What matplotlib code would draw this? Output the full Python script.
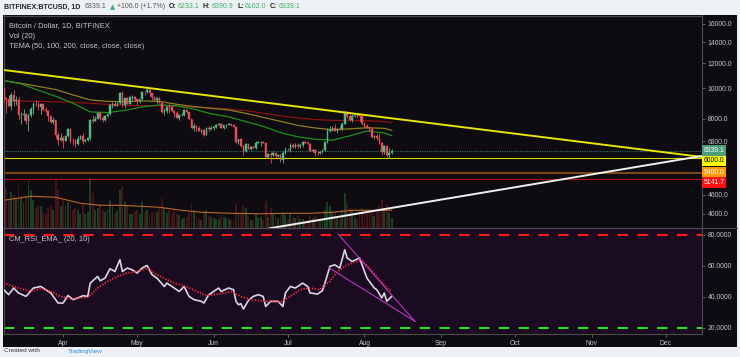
import numpy as np
import pandas as pd
import matplotlib
matplotlib.use("Agg")
import matplotlib.pyplot as plt
import matplotlib.dates as mdates
import matplotlib.ticker as mticker
from matplotlib.patches import Rectangle
from matplotlib.lines import Line2D

plt.rcParams['font.family'] = ['Liberation Sans', 'DejaVu Sans']

# ---------------------------------------------------------------- data
first_day = "2018-03-08"

opens = [9950, 9280, 9220, 8780, 9530, 9130, 9150, 8200, 8250, 8270, 7870, 8200, 8600, 8900, 8890, 8710, 8900, 8540, 8450, 8140, 7800, 7940, 7100, 6850,
         6950, 6820, 7060, 7430, 6800, 6780, 6630, 6910, 7030, 6780, 6840, 6940, 7910, 7890, 8010, 8360, 8060, 7900, 8170, 8280, 8860, 8920, 8800, 8950, 9650, 8870, 9280, 8940, 9350, 9400,
         9240, 9080, 9220, 9740, 9700, 9850, 9650, 9370, 9180, 9310, 9000, 8420, 8480, 8700, 8690, 8470, 8340, 8060, 8240, 8240, 8520, 8390, 7990, 7500, 7580, 7460, 7340, 7350, 7120, 7470, 7400,
         7500, 7530, 7640, 7720, 7500, 7630, 7660, 7690, 7620, 7530, 6770, 6880, 6550, 6310, 6640, 6400, 6500, 6460, 6700, 6740, 6760, 6720, 6060, 6170, 6150, 6250, 6090, 6160, 5900, 6220,
         6390, 6360, 6620, 6520, 6600, 6550, 6610, 6760, 6710, 6670, 6300, 6390, 6250, 6230, 6270, 6350, 6730, 7320, 7380, 7470, 7330, 7410, 7400, 7720, 8400, 8170, 7940, 8190, 8220, 8210, 8180,
         7730, 7600, 7540, 7410, 7010, 7030, 6940, 6720, 6280, 6540, 6150, 6233.1]
highs = [10100, 9400, 9500, 9700, 9880, 9450, 9350, 8400, 8600, 8350, 8300, 8700, 9050, 9180, 9100, 8920, 9000, 8700, 8500, 8200, 8100, 7950, 7250, 7200,
         7030, 7130, 7500, 7430, 6930, 6880, 7070, 7110, 7190, 6900, 6970, 8000, 8230, 8180, 8420, 8400, 8180, 8250, 8300, 8930, 9030, 9020, 9000, 9730, 9770, 9300, 9380, 9450, 9480, 9470,
         9250, 9230, 9810, 9750, 9980, 9940, 9680, 9470, 9370, 9380, 9000, 8650, 8790, 8880, 8850, 8490, 8480, 8280, 8370, 8560, 8560, 8410, 8010, 7730, 7640, 7590, 7380, 7440, 7540, 7560, 7600,
         7600, 7690, 7770, 7760, 7650, 7690, 7750, 7710, 7690, 7530, 6900, 6900, 6620, 6690, 6650, 6540, 6580, 6800, 6820, 6780, 6790, 6730, 6240, 6260, 6330, 6290, 6200, 6170, 6300, 6500,
         6440, 6680, 6680, 6720, 6700, 6640, 6790, 6800, 6800, 6690, 6410, 6400, 6340, 6320, 6410, 6760, 7470, 7580, 7560, 7690, 7450, 7560, 7800, 8490, 8480, 8300, 8260, 8240, 8290, 8250, 8190,
         7760, 7710, 7540, 7490, 7090, 7150, 7150, 6730, 6620, 6580, 6480, 6390.9]
lows = [9050, 8350, 8700, 8500, 8800, 8850, 8000, 7700, 7900, 7700, 7300, 8100, 8300, 8800, 8500, 8300, 8500, 8400, 7850, 7780, 7700, 6950, 6600, 6800,
        6440, 6800, 7020, 6720, 6620, 6520, 6620, 6900, 6650, 6730, 6820, 6860, 7780, 7850, 8000, 7910, 7830, 7890, 8100, 8210, 8640, 8790, 8800, 8930, 8740, 8660, 8900, 8900, 9200, 9090,
        8850, 9000, 9180, 9530, 9680, 9470, 9200, 9080, 8980, 8980, 8360, 8250, 8360, 8340, 8440, 8120, 8020, 7950, 8150, 8180, 8320, 7960, 7440, 7290, 7340, 7340, 7230, 7070, 7080, 7300, 7380,
        7380, 7480, 7630, 7460, 7400, 7500, 7650, 7560, 7510, 6700, 6640, 6510, 6120, 6280, 6400, 6360, 6450, 6400, 6680, 6560, 6690, 5990, 6050, 5800, 6080, 6060, 6050, 5830, 5790, 6200,
        6300, 6280, 6470, 6480, 6460, 6450, 6530, 6700, 6640, 6300, 6290, 6080, 6130, 6200, 6250, 6340, 6680, 7250, 7290, 7290, 7220, 7390, 7380, 7700, 8050, 7860, 7820, 8080, 8120, 7850, 7670,
        7470, 7480, 7300, 6960, 6900, 6860, 6670, 6130, 6200, 6030, 6020, 6162.0]
closes = [9280, 9220, 8780, 9530, 9130, 9150, 8200, 8250, 8270, 7870, 8200, 8600, 8900, 8890, 8710, 8900, 8540, 8450, 8140, 7800, 7940, 7100, 6850, 6950,
          6820, 7060, 7430, 6800, 6780, 6630, 6910, 7030, 6780, 6840, 6940, 7910, 7890, 8010, 8360, 8060, 7900, 8170, 8280, 8860, 8920, 8800, 8950, 9650, 8870, 9280, 8940, 9350, 9400, 9240,
          9080, 9220, 9740, 9700, 9850, 9650, 9370, 9180, 9310, 9000, 8420, 8480, 8700, 8690, 8470, 8340, 8060, 8240, 8240, 8520, 8390, 7990, 7500, 7580, 7460, 7340, 7350, 7120, 7470, 7400, 7500,
          7530, 7640, 7720, 7500, 7630, 7660, 7690, 7620, 7530, 6770, 6880, 6550, 6310, 6640, 6400, 6500, 6460, 6700, 6740, 6760, 6720, 6060, 6170, 6150, 6250, 6090, 6160, 5900, 6220, 6390,
          6360, 6620, 6520, 6600, 6550, 6610, 6760, 6710, 6670, 6300, 6390, 6250, 6230, 6270, 6350, 6730, 7320, 7380, 7470, 7330, 7410, 7400, 7720, 8400, 8170, 7940, 8190, 8220, 8210, 8180, 7730,
          7600, 7540, 7410, 7010, 7030, 6940, 6720, 6280, 6540, 6150, 6233.1, 6339.1]
volumes = [48, 40, 28, 36, 33, 30, 43, 30, 25, 32, 47, 38, 28, 20, 22, 22, 16, 14, 20, 22, 18, 50, 38, 22,
           28, 22, 26, 25, 18, 20, 18, 14, 25, 14, 16, 50, 35, 18, 20, 24, 18, 16, 18, 28, 22, 15, 17, 38, 41, 26, 22, 14, 14, 17,
           18, 14, 26, 16, 18, 14, 16, 15, 16, 20, 29, 20, 15, 18, 14, 18, 14, 13, 9, 10, 11, 15, 25, 18, 13, 9, 8, 15, 18, 12, 11,
           10, 9, 9, 13, 11, 10, 9, 8, 8, 24, 14, 15, 22, 20, 12, 8, 7, 14, 10, 11, 8, 27, 11, 20, 14, 12, 10, 15, 16, 13,
           9, 14, 11, 10, 12, 9, 9, 6, 8, 13, 10, 12, 11, 7, 8, 18, 26, 22, 17, 16, 10, 9, 18, 35, 25, 20, 18, 10, 9, 17, 20,
           18, 14, 16, 17, 12, 16, 22, 28, 20, 24, 15, 10]

# volume MA(20), read at these day offsets from first_day
vol_ma_day = [0, 11, 21, 31, 39, 47, 55, 63, 72, 80, 92, 104, 116, 124, 133, 141, 153, 157]
vol_ma = [28, 32, 31, 25, 23, 23, 22, 21, 18, 16, 15, 14.5, 15, 15, 16, 18, 18, 18]

# TEMA lines read weekly
tema_dates = ["2018-03-08", "2018-03-15", "2018-03-22", "2018-03-29", "2018-04-05", "2018-04-12",
              "2018-04-19", "2018-04-26", "2018-05-03", "2018-05-10", "2018-05-17", "2018-05-24",
              "2018-05-31", "2018-06-07", "2018-06-14", "2018-06-21", "2018-06-28", "2018-07-05",
              "2018-07-12", "2018-07-19", "2018-07-26", "2018-08-02", "2018-08-09", "2018-08-12"]
tema50 = [10570, 10320, 9850, 9430, 8960, 8410, 8370, 8500, 8720, 8850, 8790, 8580,
          8290, 8110, 7830, 7570, 7230, 7010, 6890, 6840, 7060, 7320, 7210, 7080]
tema100 = [10570, 10360, 10130, 9900, 9520, 9180, 9080, 9060, 9110, 9080, 8890, 8740,
           8630, 8530, 8320, 8080, 7850, 7620, 7480, 7380, 7430, 7490, 7460, 7350]
tema200 = [9150, 9110, 9080, 9050, 9020, 8950, 8890, 8820, 8800, 8790, 8760, 8720,
           8660, 8590, 8490, 8330, 8170, 8040, 7960, 7900, 7900, 7880, 7840, 7780]

# CM_RSI_EMA (20, 10)
rsi_day = [0, 2, 4, 6, 9, 12, 15, 17, 19, 21, 22, 24, 26, 28, 30, 32, 34, 35, 38, 39,
           41, 43, 45, 47, 48, 50, 52, 54, 56, 58, 60, 62, 65, 66, 69, 71, 73, 75, 77, 80,
           81, 83, 87, 88, 91, 93, 94, 95, 96, 97, 99, 101, 103, 105, 106, 108, 111, 113, 114, 116,
           118, 121, 123, 124, 127, 129, 130, 132, 134, 136, 138, 139, 141, 144, 146, 147, 150, 151, 153, 154,
           155, 157]
rsi_val = [44.5, 41.3, 45.6, 42.4, 40.2, 45.6, 46.6, 44.5, 42.4, 38.1, 35.9, 35.9, 40.8, 38.1, 39.2, 40.6, 40.2, 48.8, 53.1, 50.3,
           52.0, 58.1, 56.3, 63.9, 56.3, 58.5, 57.4, 55.3, 58.5, 60.2, 54.2, 52.0, 46.6, 48.8, 45.6, 43.4, 46.6, 40.2, 38.1, 37.0,
           35.9, 41.3, 45.6, 43.4, 45.6, 44.5, 37.0, 34.8, 35.5, 32.0, 37.5, 40.2, 41.3, 40.2, 33.7, 37.0, 37.0, 33.7, 42.4, 46.6,
           45.6, 48.8, 46.6, 42.4, 41.7, 43.9, 48.8, 59.6, 60.6, 58.5, 70.3, 65.0, 62.8, 65.0, 56.3, 52.0, 45.6, 44.5, 39.2, 42.4,
           37.0, 40.2]
ema_day = [0, 2, 6, 11, 15, 19, 23, 27, 31, 34, 38, 42, 46, 50, 54, 58, 62, 66, 70, 74,
           78, 82, 87, 92, 96, 100, 104, 108, 112, 116, 120, 124, 128, 130, 132, 135, 139, 143, 145, 148,
           152, 155, 157]
ema_val = [49.0, 47.7, 45.6, 43.4, 45.2, 43.4, 40.2, 38.7, 39.2, 39.6, 45.6, 49.9, 53.1, 55.3, 56.3, 58.5, 54.2, 51.0, 48.2, 46.6,
           43.4, 40.8, 41.7, 43.4, 40.2, 38.0, 37.4, 37.0, 36.6, 40.2, 44.5, 45.6, 44.5, 47.7, 49.9, 56.3, 60.6, 62.8, 63.2, 58.5,
           51.0, 46.0, 43.4]

# horizontal levels and drawings
level_prices = [6339.1, 6000.0, 5400.0, 5141.7]
level_labels = ["6339.1", "6000.0", "5400.0", "5141.7"]
trend_down_dates = ["2018-03-08", "2018-12-15"]
trend_down_prices = [11420, 6060]
trend_up_dates = ["2018-08-07", "2018-12-15"]
trend_up_prices = [4110, 6085]
wedge_upper_dates = ["2018-07-21 08:00", "2018-08-21 10:00"]
wedge_upper_vals = [80.5, 24.1]
wedge_lower_dates = ["2018-07-17 19:00", "2018-08-21 10:00"]
wedge_lower_vals = [58.5, 24.1]

price_ticks = [4000, 4600, 6800, 8000, 10000, 12000, 14000, 16000]
rsi_ticks = [20, 40, 60, 80]

# ---------------------------------------------------------------- style
W, H = 740, 357
BG_OUT = '#eef1f4'
BG_DARK = '#0e0b11'
BG_PRICE = '#0d0a10'
BG_RSI = '#1b0b20'
FRAME = '#4a4a50'
TXT = '#c4c4c4'
UP, DN = '#53b987', '#eb4d5c'
VUP, VDN = '#1b3f21', '#43151b'
FS = 4.9
FS_LEG = 5.4


def fx(px):
    return px / W


def fy(py):
    return 1 - py / H


fig = plt.figure(figsize=(W / 100, H / 100), dpi=100, facecolor=BG_OUT)
fig.patches.append(Rectangle((fx(3), fy(346.5)), fx(737) - fx(3), fy(15.3) - fy(346.5),
                             transform=fig.transFigure, fc=BG_DARK, ec='none', zorder=-5))

axp = fig.add_axes([fx(3.5), fy(228.3), fx(702) - fx(3.5), fy(15.5) - fy(228.3)])
axv = axp.twinx()
axr = fig.add_axes([fx(3.5), fy(334.3), fx(702) - fx(3.5), fy(228.3) - fy(334.3)], sharex=axp)

axr.set_zorder(1)
axv.set_zorder(1)
axp.set_zorder(2)
axp.patch.set_visible(False)
axv.patch.set_facecolor(BG_PRICE)
axr.set_facecolor(BG_RSI)

dates = pd.date_range(first_day, periods=len(closes), freq='D')
x = mdates.date2num(dates)
o, h, l, c = (np.array(v, dtype=float) for v in (opens, highs, lows, closes))
up = c >= o
ccol = np.where(up, UP, DN)

# volume
axv.bar(x, volumes, width=0.75, color=np.where(up, VUP, VDN), linewidth=0, zorder=1)
axv.plot(x[vol_ma_day], vol_ma, color='#b8692c', lw=0.8, zorder=2)
axv.set_ylim(0, max(volumes) * 4.25)
axv.set_yticks([])

# candles
axp.set_yscale('log')
axp.vlines(x, l, h, colors=ccol, lw=0.6, zorder=3)
blo, bhi = np.minimum(o, c), np.maximum(o, c)
axp.bar(x, bhi - blo, bottom=blo, width=0.65, color=ccol, edgecolor=ccol, linewidth=0.3, zorder=4)

# TEMA
td = mdates.date2num(pd.to_datetime(tema_dates))
axp.plot(td, tema200, color='#8e1111', lw=0.9, zorder=2)
axp.plot(td, tema100, color='#8f801f', lw=0.9, zorder=2)
axp.plot(td, tema50, color='#1d901d', lw=0.9, zorder=2)

# levels
axp.axhline(level_prices[0], color='#2f6f60', lw=0.8, ls=(0, (1, 1)), zorder=2)
axp.axhline(level_prices[1], color='#d8d800', lw=0.8, zorder=2)
axp.axhline(level_prices[2], color='#8a4d12', lw=1.3, zorder=2)
axp.axhline(level_prices[3], color='#b01010', lw=0.8, zorder=2)

# trend lines
dn = mdates.date2num(pd.to_datetime(trend_down_dates))
upd = mdates.date2num(pd.to_datetime(trend_up_dates))
axp.axline((dn[0], trend_down_prices[0]), (dn[1], trend_down_prices[1]), color='#e6e600', lw=1.4, zorder=5)
axp.axline((upd[0], trend_up_prices[0]), (upd[1], trend_up_prices[1]), color='#f0f0f0', lw=1.4, zorder=5)

axp.set_ylim(3595, 17000)
xl = (mdates.date2num(pd.Timestamp("2018-03-08")) - 0.1, mdates.date2num(pd.Timestamp("2018-12-15")) + 0.6)
axp.set_xlim(*xl)

# price labels on axis
label_style = [('#4a9e7c', 'white', 0), ('#ffff00', 'black', -1.9), ('#ff9800', 'white', 0), ('#ff1010', 'white', -2.2)]
for price, text, (bg, fg, dy) in zip(level_prices, level_labels, label_style):
    axp.annotate(text, xy=(1, price), xycoords=('axes fraction', 'data'), xytext=(1.2, dy),
                 textcoords='offset points', ha='left', va='center', fontsize=FS, color=fg,
                 bbox=dict(boxstyle='square,pad=0.25', fc=bg, ec='none'), annotation_clip=False, zorder=10)

axp.yaxis.tick_right()
axp.yaxis.set_minor_locator(mticker.NullLocator())
axp.set_yticks(price_ticks)
axp.set_yticklabels([f"{v:.1f}" for v in price_ticks])
axp.tick_params(axis='y', which='both', colors='#707070', labelcolor=TXT, labelsize=FS, length=2.5, width=0.6, pad=1.5)
axp.tick_params(axis='x', bottom=False, labelbottom=False)

# RSI pane
axr.axhline(80, color='#ff1c1c', lw=1.5, dashes=(5, 4.5))
axr.axhline(20, color='#22e022', lw=1.5, dashes=(5, 4.5))
axr.plot(x[rsi_day], rsi_val, color='#dcd4e4', lw=1.2, zorder=3)
axr.plot(x[ema_day], ema_val, color='#ff2a3a', lw=1.3, ls=(0, (0.7, 0.9)), zorder=4)
for dts, vals in ((wedge_upper_dates, wedge_upper_vals), (wedge_lower_dates, wedge_lower_vals)):
    axr.plot(mdates.date2num(pd.to_datetime(dts)), vals, color='#b536c0', lw=0.8, zorder=5)
axr.set_ylim(15.7, 84.2)
axr.yaxis.tick_right()
axr.set_yticks(rsi_ticks)
axr.set_yticklabels([f"{v:.4f}" for v in rsi_ticks])
axr.tick_params(axis='y', colors='#707070', labelcolor=TXT, labelsize=FS, length=2.5, width=0.6, pad=1.5)
axr.xaxis.set_major_locator(mdates.MonthLocator())
axr.xaxis.set_major_formatter(mdates.DateFormatter('%b'))
axr.tick_params(axis='x', colors='#707070', labelcolor=TXT, labelsize=FS, length=2.5, width=0.6, pad=1.5)
axr.set_xlim(*xl)

for a in (axp, axv, axr):
    for s in a.spines.values():
        s.set_color(FRAME)
        s.set_linewidth(0.8)

fig.lines.append(Line2D([fx(3), fx(737)], [fy(228.3), fy(228.3)], transform=fig.transFigure, color=FRAME, lw=0.8))

# legends
fig.text(fx(9), fy(26), "Bitcoin / Dollar, 1D, BITFINEX", fontsize=FS_LEG, color=TXT, va='center')
fig.text(fx(9), fy(36), "Vol (20)", fontsize=FS_LEG, color=TXT, va='center')
fig.text(fx(9), fy(46.5), "TEMA (50, 100, 200, close, close, close)", fontsize=FS_LEG, color=TXT, va='center')
fig.text(fx(9), fy(239.5), "CM_RSI_EMA_ (20, 10)", fontsize=FS_LEG, color=TXT, va='center')

# header: segments placed one after another
GREEN = '#3fae6a'
hy = fy(7)
hdr = [("BITFINEX:BTCUSD, 1D", '#222222', 'bold', 4), ("6339.1", '#555555', 'normal', 4),
       ("\u25b2", GREEN, 'normal', 2), ("+106.0 (+1.7%)", '#555555', 'normal', 3),
       ("O:", '#222222', 'bold', 1.5), ("6233.1", GREEN, 'normal', 3.5),
       ("H:", '#222222', 'bold', 1.5), ("6390.9", GREEN, 'normal', 3.5),
       ("L:", '#222222', 'bold', 1.5), ("6162.0", GREEN, 'normal', 3.5),
       ("C:", '#222222', 'bold', 1.5), ("6339.1", GREEN, 'normal', 3.5)]
renderer = fig.canvas.get_renderer()
cur = 4.0
for t, col, wt, gap in hdr:
    txt = fig.text(fx(cur), hy, t, fontsize=5.0, color=col, fontweight=wt, va='center',
                   family=['DejaVu Sans'] if t == "\u25b2" else ['Liberation Sans', 'DejaVu Sans'])
    bb = txt.get_window_extent(renderer=renderer)
    cur = bb.x1 + gap

# footer
fig.text(fx(4), fy(348.5), "Created with", fontsize=4.6, color='#333333', va='top')
fig.text(fx(68), fy(348.5), "TradingView", fontsize=4.6, color='#2f8fd8', va='top')

fig.savefig("out.png", dpi=100, facecolor=BG_OUT)
